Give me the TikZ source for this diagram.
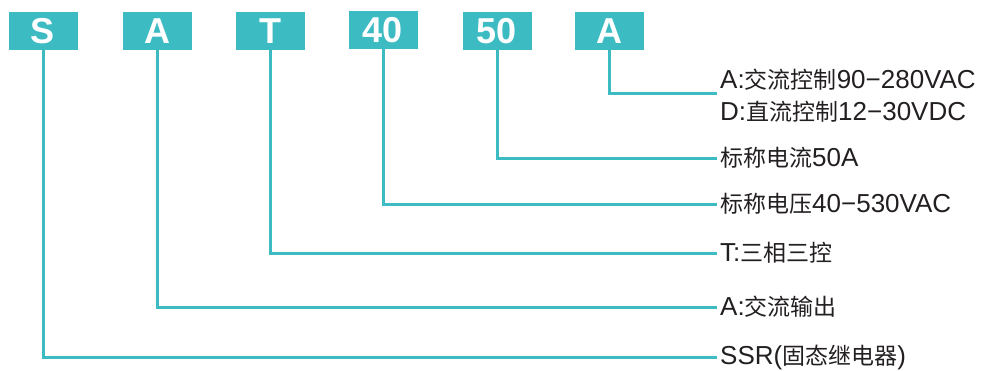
\documentclass[tikz,border=0pt]{standalone}
\usepackage{fontspec}
\setmainfont{Liberation Sans}
\newfontfamily\cjk{Noto Sans CJK SC}
\newcommand{\zhtxt}[1]{{\cjk\fontsize{23}{32}\selectfont #1}}
\definecolor{teal1}{HTML}{3DBBC3}
\definecolor{ink}{HTML}{231F20}

\begin{document}
\begin{tikzpicture}[x=1pt, y=-1pt, boxnode/.style={rectangle, fill=teal1, text=white, minimum width=69pt, minimum height=38pt, inner sep=0pt, font=\fontsize{36}{36}\selectfont\bfseries}, labnode/.style={anchor=west, inner sep=3pt, text=ink, align=left, font=\fontsize{26}{32}\selectfont}, link/.style={draw=teal1, line width=3pt}]
\useasboundingbox (0,0) rectangle (986,370);
%\fill[white] (0,0) rectangle (986,370);
\node[boxnode] at (43, 31) (bS) {S};
\node[boxnode] at (157, 31) (bA) {A};
\node[boxnode] at (270, 31) (bT) {T};
\node[boxnode] at (383, 30) (b40) {40};
\node[boxnode] at (497, 31) (b50) {50};
\node[boxnode] at (609, 31) (bAD) {A};
\node[labnode] at (717, 96) (tAD) {A:\zhtxt{交流控制}90−280VAC\\D:\zhtxt{直流控制}12−30VDC};
\node[labnode] at (717, 158) (t50) {\zhtxt{标称电流}50A};
\node[labnode] at (717, 204) (t40) {\zhtxt{标称电压}40−530VAC};
\node[labnode] at (717, 253) (tT) {T:\zhtxt{三相三控}};
\node[labnode] at (717, 307) (tA) {A:\zhtxt{交流输出}};
\node[labnode] at (717, 357) (tS) {SSR(\zhtxt{固态继电器})};
\draw[link] (bAD.south) |- ([yshift=3pt]tAD.west);
\draw[link] (b50.south) |- (t50.west);
\draw[link] (b40.south) |- (t40.west);
\draw[link] (bT.south) |- (tT.west);
\draw[link] (bA.south) |- (tA.west);
\draw[link] (bS.south) |- (tS.west);
\end{tikzpicture}
\end{document}
